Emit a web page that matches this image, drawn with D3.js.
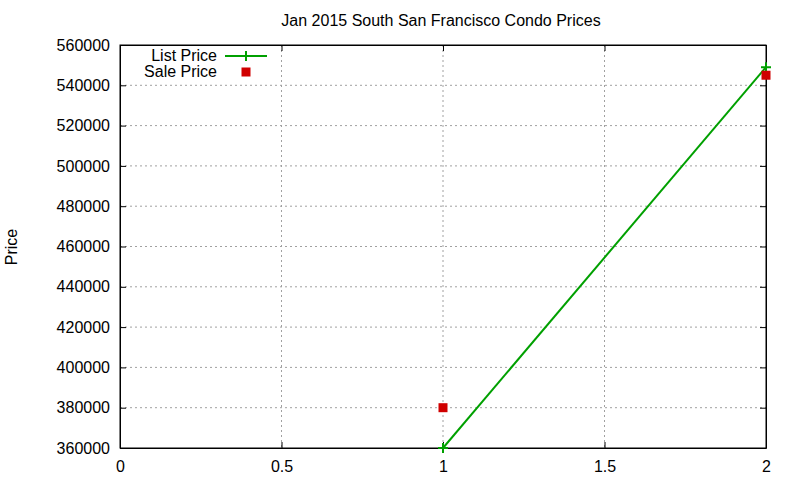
<!DOCTYPE html>
<html>
<head>
<meta charset="utf-8">
<script src="https://cdn.jsdelivr.net/npm/d3@7"></script>
<style>
  body { margin: 0; background: #fff; }
  text { font-family: "Liberation Sans", Arial, sans-serif; font-size: 16px; fill: #000; }
</style>
</head>
<body>
<div id="chart"></div>
<script>
// data
var listX = [1, 2],
	listPrice = [360000, 549000];
var saleX = [1, 2],
	salePrice = [380000, 545000];
var xTicks = [0, 0.5, 1, 1.5, 2],
	yTicks = [360000, 380000, 400000, 420000, 440000, 460000, 480000, 500000, 520000, 540000, 560000];

// plot box (named so as not to clash with window.top)
var width = 800,
	height = 480,
	plotLeft = 120,
	plotRight = 766,
	plotTop = 45,
	plotBottom = 448;

var svg = d3.select("#chart")
	.append("svg")
	.attr("width", width)
	.attr("height", height);

var x = d3.scaleLinear().domain([0, 2]).range([plotLeft, plotRight]);
var y = d3.scaleLinear().domain([360000, 560000]).range([plotBottom, plotTop]);

// grid lines
svg.selectAll(".vgrid")
	.data(xTicks.slice(1, -1))
	.enter().append("line")
	.attr("x1", function(d) { return x(d); })
	.attr("x2", function(d) { return x(d); })
	.attr("y1", plotTop)
	.attr("y2", plotBottom)
	.style("stroke", "#a0a0a0")
	.style("stroke-dasharray", "2,3");

svg.selectAll(".hgrid")
	.data(yTicks.slice(1, -1))
	.enter().append("line")
	.attr("x1", plotLeft)
	.attr("x2", plotRight)
	.attr("y1", function(d) { return y(d); })
	.attr("y2", function(d) { return y(d); })
	.style("stroke", "#a0a0a0")
	.style("stroke-dasharray", "2,3");

// axes (gnuplot style ticks inside, mirrored)
var xAxis = d3.axisBottom(x).tickValues(xTicks).tickSizeInner(-6).tickSizeOuter(0).tickPadding(10)
	.tickFormat(function(d) { return d3.format("")(d); });
var yAxis = d3.axisLeft(y).tickValues(yTicks).tickSizeInner(-6).tickSizeOuter(0).tickPadding(10)
	.tickFormat(d3.format("d"));

svg.append("g").attr("transform", "translate(0," + plotBottom + ")").call(xAxis)
	.call(function(g) { g.selectAll("text").style("font-size", "16px").attr("dy", "0.85em"); });
svg.append("g").attr("transform", "translate(" + plotLeft + ",0)").call(yAxis)
	.call(function(g) { g.selectAll("text").style("font-size", "16px"); });
svg.append("g").attr("transform", "translate(0," + plotTop + ")")
	.call(d3.axisTop(x).tickValues(xTicks).tickSizeInner(-6).tickSizeOuter(0).tickFormat(""));
svg.append("g").attr("transform", "translate(" + plotRight + ",0)")
	.call(d3.axisRight(y).tickValues(yTicks).tickSizeInner(-6).tickSizeOuter(0).tickFormat(""));

svg.selectAll(".domain").style("stroke", "#000");
svg.selectAll(".tick line").style("stroke", "#000");

// frame
svg.append("rect")
	.attr("x", plotLeft).attr("y", plotTop)
	.attr("width", plotRight - plotLeft).attr("height", plotBottom - plotTop)
	.style("fill", "none").style("stroke", "#000");

// List Price line
var listData = listX.map(function(d, i) { return [d, listPrice[i]]; });
svg.append("path")
	.datum(listData)
	.attr("d", d3.line().x(function(d) { return x(d[0]); }).y(function(d) { return y(d[1]); }))
	.style("fill", "none")
	.style("stroke", "#00a000")
	.style("stroke-width", 2);

function cross(g, cx, cy) {
	g.append("path")
		.attr("d", "M" + (cx - 5) + "," + cy + "h10M" + cx + "," + (cy - 5) + "v10")
		.style("stroke", "#00a000")
		.style("stroke-width", 2);
}
listData.forEach(function(d) { cross(svg, x(d[0]), y(d[1])); });

// Sale Price squares
var saleData = saleX.map(function(d, i) { return [d, salePrice[i]]; });
svg.selectAll(".sale")
	.data(saleData)
	.enter().append("rect")
	.attr("x", function(d) { return x(d[0]) - 4.5; })
	.attr("y", function(d) { return y(d[1]) - 4.5; })
	.attr("width", 9)
	.attr("height", 9)
	.style("fill", "#d00000");

// legend
svg.append("text").attr("x", 217).attr("y", 61).attr("text-anchor", "end").text("List Price");
svg.append("line").attr("x1", 225).attr("x2", 267).attr("y1", 56).attr("y2", 56)
	.style("stroke", "#00a000").style("stroke-width", 2);
cross(svg, 246, 56);
svg.append("text").attr("x", 217).attr("y", 77).attr("text-anchor", "end").text("Sale Price");
svg.append("rect").attr("x", 241.5).attr("y", 67.5).attr("width", 9).attr("height", 9)
	.style("fill", "#d00000");

// title and y label
svg.append("text").attr("x", 441).attr("y", 26).attr("text-anchor", "middle")
	.text("Jan 2015 South San Francisco Condo Prices");
svg.append("text").attr("transform", "translate(17,247) rotate(-90)").attr("text-anchor", "middle")
	.text("Price");
</script>
</body>
</html>
